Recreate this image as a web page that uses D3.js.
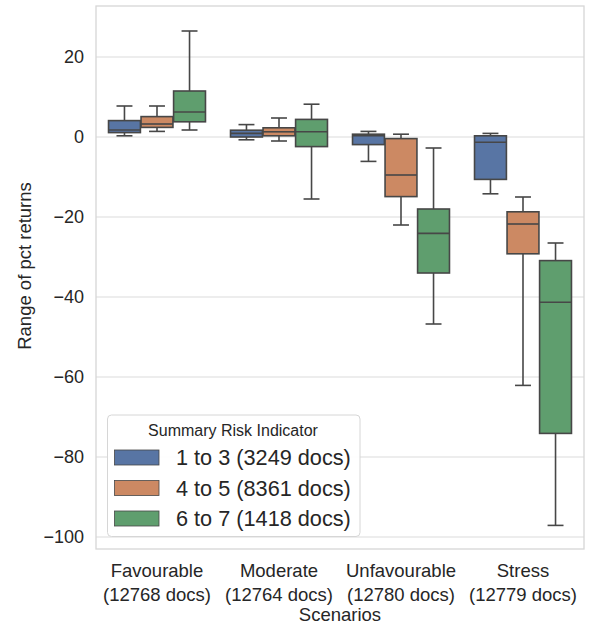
<!DOCTYPE html>
<html>
<head>
<meta charset="utf-8">
<script src="https://cdn.jsdelivr.net/npm/d3@7"></script>
<style>
  html, body { margin: 0; padding: 0; background: #ffffff; }
  svg { display: block; font-family: "Liberation Sans", Arial, sans-serif; }
</style>
</head>
<body>
<svg id="chart" width="590" height="626"></svg>
<script>
// ---- data ----
const categories = ["Favourable", "Moderate", "Unfavourable", "Stress"];
const categoryDocs = [12768, 12764, 12780, 12779];
const seriesNames = ["1 to 3 (3249 docs)", "4 to 5 (8361 docs)", "6 to 7 (1418 docs)"];
const seriesColors = ["#5875a4", "#cc8963", "#5f9e6e"];
const yTicks = [-100, -80, -60, -40, -20, 0, 20];

// per series: whisker low, q1, median, q3, whisker high (one value per category)
const lowWhisker = [
  [0.3, -0.7, -6.1, -14.2],
  [1.4, -1.0, -22.0, -62.1],
  [1.75, -15.5, -46.75, -97.1]
];
const q1 = [
  [1.1, 0.0, -1.9, -10.6],
  [2.4, 0.3, -14.9, -29.2],
  [3.8, -2.4, -34.0, -74.1]
];
const median = [
  [1.75, 0.9, 0.3, -1.3],
  [3.25, 1.3, -9.5, -21.75],
  [6.25, 1.3, -24.1, -41.3]
];
const q3 = [
  [4.1, 1.7, 0.7, 0.3],
  [5.1, 2.3, -0.4, -18.7],
  [11.5, 4.4, -18.0, -30.9]
];
const highWhisker = [
  [7.75, 3.1, 1.4, 0.9],
  [7.75, 4.75, 0.7, -15.0],
  [26.5, 8.2, -2.75, -26.5]
];

// ---- layout ----
const svg = d3.select("#chart");
const L = 96, R = 584, T = 6, B = 549;
const lineColor = "#474747";
const frameColor = "#d6d6d6";

const x = d3.scaleBand().domain(categories).range([L, R]).paddingInner(0).paddingOuter(0);
const y = d3.scaleLinear().domain([-103, 32.75]).range([B, T]);
const hue = d3.scaleBand().domain(seriesNames).range([-x.bandwidth() * 0.4, x.bandwidth() * 0.4]);
const boxW = hue.bandwidth() * 0.98;

// grid
svg.append("g").selectAll("line").data(yTicks).join("line")
  .attr("x1", L).attr("x2", R)
  .attr("y1", d => y(d)).attr("y2", d => y(d))
  .attr("stroke", "#dcdcdc").attr("stroke-width", 1.2);

// y axis
const yAxis = d3.axisLeft(y).tickValues(yTicks).tickSize(0).tickPadding(12)
  .tickFormat(d => d < 0 ? "\u2212" + Math.abs(d) : String(d));
const gy = svg.append("g").attr("transform", `translate(${L},0)`).call(yAxis);
gy.select(".domain").remove();
gy.selectAll("text").attr("font-size", 18).attr("fill", "#262626")
  .attr("font-family", "Liberation Sans, Arial, sans-serif");

// x axis
const xAxis = d3.axisBottom(x).tickSize(0).tickFormat(() => "");
const gx = svg.append("g").attr("transform", `translate(0,${B})`).call(xAxis);
gx.select(".domain").remove();
gx.selectAll(".tick").each(function(d, i) {
  const t = d3.select(this).append("text")
    .attr("fill", "#262626").attr("font-size", 18.5).attr("text-anchor", "middle")
    .attr("font-family", "Liberation Sans, Arial, sans-serif");
  t.append("tspan").attr("x", 0).attr("y", 28).text(d);
  t.append("tspan").attr("x", 0).attr("y", 52).text(`(${categoryDocs[i]} docs)`);
});

// boxes
seriesNames.forEach((s, si) => {
  const g = svg.append("g");
  categories.forEach((c, ci) => {
    const cx = x(c) + x.bandwidth() / 2 + hue(s) + hue.bandwidth() / 2;
    const capW = boxW / 2;
    // whiskers
    g.append("line").attr("x1", cx).attr("x2", cx)
      .attr("y1", y(q3[si][ci])).attr("y2", y(highWhisker[si][ci]))
      .attr("stroke", lineColor).attr("stroke-width", 1.6);
    g.append("line").attr("x1", cx).attr("x2", cx)
      .attr("y1", y(q1[si][ci])).attr("y2", y(lowWhisker[si][ci]))
      .attr("stroke", lineColor).attr("stroke-width", 1.6);
    // caps
    [highWhisker[si][ci], lowWhisker[si][ci]].forEach(v => {
      g.append("line").attr("x1", cx - capW / 2).attr("x2", cx + capW / 2)
        .attr("y1", y(v)).attr("y2", y(v))
        .attr("stroke", lineColor).attr("stroke-width", 1.6);
    });
    // box
    g.append("rect")
      .attr("x", cx - boxW / 2).attr("width", boxW)
      .attr("y", y(q3[si][ci])).attr("height", y(q1[si][ci]) - y(q3[si][ci]))
      .attr("fill", seriesColors[si]).attr("stroke", lineColor).attr("stroke-width", 1.6);
    // median
    g.append("line").attr("x1", cx - boxW / 2).attr("x2", cx + boxW / 2)
      .attr("y1", y(median[si][ci])).attr("y2", y(median[si][ci]))
      .attr("stroke", lineColor).attr("stroke-width", 1.6);
  });
});

// frame
svg.append("rect").attr("x", L).attr("y", T).attr("width", R - L).attr("height", B - T)
  .attr("fill", "none").attr("stroke", frameColor).attr("stroke-width", 1.3);

// axis titles
svg.append("text").attr("x", (L + R) / 2).attr("y", 621).attr("text-anchor", "middle")
  .attr("font-size", 18.5).attr("fill", "#262626").text("Scenarios");
svg.append("text").attr("transform", `translate(31,${(182 + 350) / 2}) rotate(-90)`)
  .attr("text-anchor", "middle").attr("font-size", 18.5).attr("fill", "#262626")
  .text("Range of pct returns");

// legend
const lg = svg.append("g");
lg.append("rect").attr("x", 107.5).attr("y", 415).attr("width", 252.5).attr("height", 121.5)
  .attr("rx", 4).attr("fill", "#ffffff").attr("fill-opacity", 0.95)
  .attr("stroke", "#d6d6d6").attr("stroke-width", 1);
lg.append("text").attr("x", 233).attr("y", 435.5).attr("text-anchor", "middle")
  .attr("font-size", 16).attr("fill", "#262626").text("Summary Risk Indicator");
seriesNames.forEach((s, i) => {
  const cy = 457.5 + i * 30.5;
  lg.append("rect").attr("x", 114.5).attr("y", cy - 7.5).attr("width", 44.5).attr("height", 15)
    .attr("fill", seriesColors[i]).attr("stroke", lineColor).attr("stroke-width", 0.8);
  lg.append("text").attr("x", 176).attr("y", cy + 7.5)
    .attr("font-size", 21.7).attr("fill", "#262626").text(s);
});
</script>
</body>
</html>
